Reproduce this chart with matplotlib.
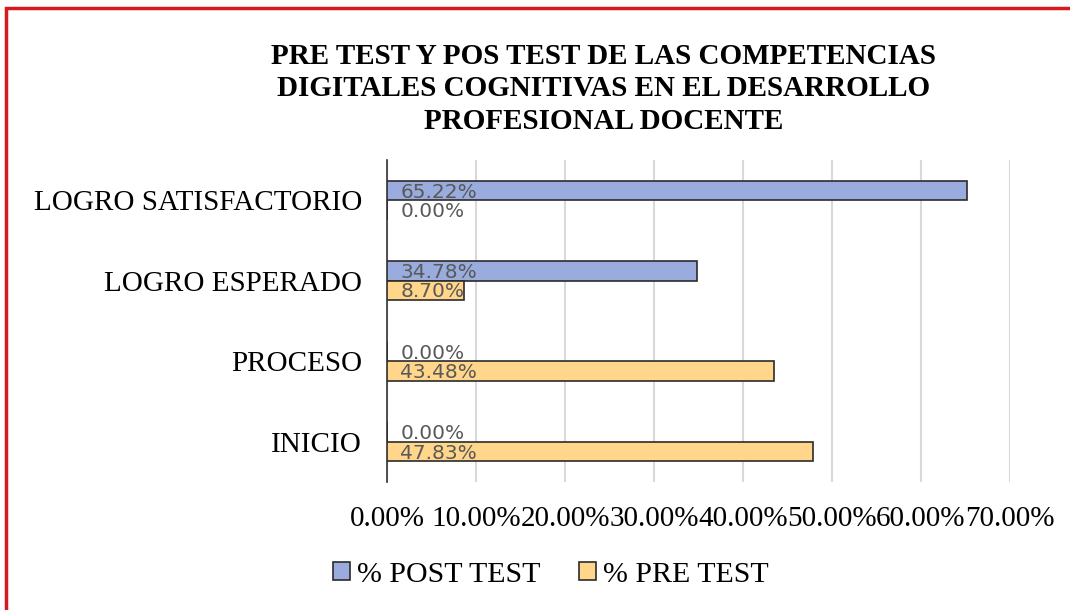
import matplotlib
matplotlib.use("Agg")
from matplotlib import pyplot as plt
from matplotlib.patches import Rectangle
import numpy as np

# Data
categorias = ["INICIO", "PROCESO", "LOGRO ESPERADO", "LOGRO SATISFACTORIO"]
post_test = [0.00, 0.00, 34.78, 65.22]
pre_test = [47.83, 43.48, 8.70, 0.00]
x_ticks = [0, 10, 20, 30, 40, 50, 60, 70]
titulo = "PRE TEST Y POS TEST DE LAS COMPETENCIAS\nDIGITALES COGNITIVAS EN EL DESARROLLO\nPROFESIONAL DOCENTE"

serif = "Liberation Serif"

fig = plt.figure(figsize=(10.7, 6.1), dpi=100)
ax = fig.add_axes([0.3617, 0.2098, 0.5822, 0.528])

y = np.arange(len(categorias))
h = 0.24
ax.barh(y + h / 2, post_test, height=h, color="#9AACDE", edgecolor="#2b2b2b",
        linewidth=1.2, label="% POST TEST", zorder=3)
ax.barh(y - h / 2, pre_test, height=h, color="#FFD68A", edgecolor="#2b2b2b",
        linewidth=1.2, label="% PRE TEST", zorder=3)

# data labels
for i in range(len(categorias)):
    ax.text(1.5, y[i] + h / 2 - 0.02, f"{post_test[i]:.2f}%", va="center", ha="left",
            fontsize=14.5, color="#595959", zorder=4)
    ax.text(1.5, y[i] - h / 2 - 0.02, f"{pre_test[i]:.2f}%", va="center", ha="left",
            fontsize=14.5, color="#595959", zorder=4)

ax.set_xlim(0, 70)
ax.set_ylim(-0.5, 3.5)
ax.set_xticks(x_ticks)
ax.set_xticklabels([f"{v:.2f}%" for v in x_ticks], fontfamily=serif, fontsize=21)
ax.set_yticks(y)
ax.set_yticklabels(categorias, fontfamily=serif, fontsize=21)
ax.tick_params(length=0, pad=17, axis="x")
ax.tick_params(length=0, pad=18, axis="y")
ax.grid(axis="x", color="#D9D9D9", linewidth=1.5, zorder=0)
for s in ["top", "right", "bottom"]:
    ax.spines[s].set_visible(False)
ax.spines["left"].set_color("#333333")
ax.spines["left"].set_linewidth(1.2)

fig.text(0.564, 0.93, titulo, ha="center", va="top", fontfamily=serif,
         fontweight="bold", fontsize=21, linespacing=1.27)

handles, labels = ax.get_legend_handles_labels()
leg = fig.legend(handles, labels, loc="center", bbox_to_anchor=(0.515, 0.058), ncol=2,
                 frameon=False, prop={"family": serif, "size": 21.5},
                 handlelength=0.55, handleheight=0.55, handletextpad=0.25, columnspacing=1.3)

# red frame
fig.patches.append(Rectangle((6 / 1070, -0.1), 1.2, 0.1 + 1 - 8 / 610, transform=fig.transFigure,
                             fill=False, edgecolor="#D71920", linewidth=2.5))

plt.savefig("out.png", dpi=100)
